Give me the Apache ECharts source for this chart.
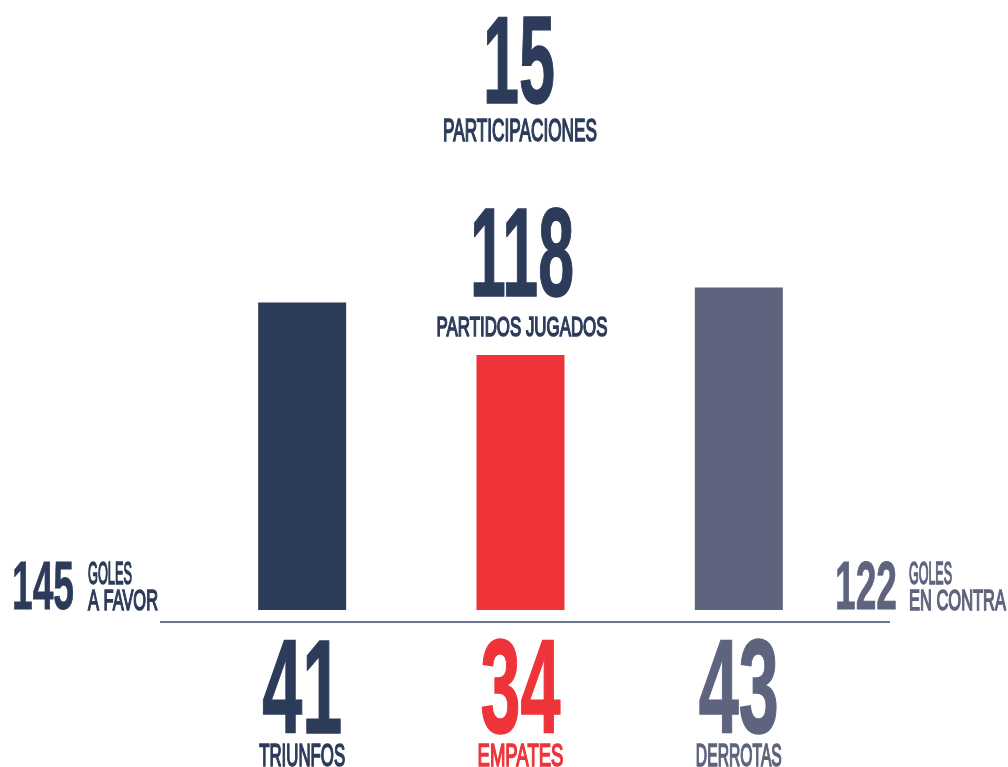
<!DOCTYPE html>
<html>
<head>
<meta charset="utf-8">
<style>
  html, body { margin: 0; padding: 0; background: #ffffff; }
  #chart { width: 1008px; height: 767px; }
</style>
<script src="https://cdn.jsdelivr.net/npm/echarts@6/dist/echarts.min.js"></script>
</head>
<body>
<div id="chart"></div>
<script>
const categories = ["TRIUNFOS", "EMPATES", "DERROTAS"];
const results = [41, 34, 43];
const barColors = ["#2b3b59", "#ee3339", "#5e637e"];
const participations = [15, "PARTICIPACIONES"];
const matchesPlayed = [118, "PARTIDOS JUGADOS"];
const goalsFor = [145, "GOLES", "A FAVOR"];
const goalsAgainst = [122, "GOLES", "EN CONTRA"];

const navy = "#2b3b59";
const slate = "#5e637e";
const FONT = '"Liberation Sans", Arial, sans-serif';

// measure helper, used to squeeze the wide system font into a condensed look
const measureCtx = document.createElement("canvas").getContext("2d");
function fontFor(size, weight) {
  return weight + " " + size + "px " + FONT;
}
function textWidth(text, size, weight) {
  measureCtx.font = fontFor(size, weight);
  return measureCtx.measureText(String(text)).width;
}

// big numbers are bold, small captions are regular with a thin outline
function squeezed(text, x, capTop, capH, targetW, color, align) {
  const big = capH > 40;
  const weight = big ? "bold" : "normal";
  const size = capH / 0.716;
  const w = textWidth(text, size, weight);
  return {
    type: "text",
    x: x,
    y: capTop + capH / 2 + size * 0.045,
    scaleX: targetW / w,
    silent: true,
    style: {
      text: String(text),
      font: fontFor(size, weight),
      fill: color,
      stroke: color,
      lineWidth: big ? size * 0.012 : 1.6,
      textAlign: align || "center",
      textVerticalAlign: "middle"
    }
  };
}

const chart = echarts.init(document.getElementById("chart"), null, { renderer: "canvas" });

chart.setOption({
  animation: false,
  backgroundColor: "#ffffff",
  grid: { left: 193, right: 160, top: 10, bottom: 157 },
  xAxis: {
    type: "category",
    data: categories,
    axisLine: { show: false },
    axisTick: { show: false },
    axisLabel: { show: false }
  },
  yAxis: {
    type: "value",
    min: 0,
    max: 80,
    show: false,
    splitLine: { show: false }
  },
  graphic: [
    {
      type: "line",
      silent: true,
      shape: { x1: 160, y1: 622, x2: 890, y2: 622 },
      style: { stroke: "#6b7591", lineWidth: 2 }
    },
    squeezed(participations[0], 519, 19, 89, 72, navy),
    squeezed(participations[1], 520, 120, 22, 154, navy),
    squeezed(matchesPlayed[0], 522, 211, 90, 104, navy),
    squeezed(matchesPlayed[1], 522, 317, 20, 171, navy),
    squeezed(goalsFor[0], 43, 563, 49, 62, navy),
    squeezed(goalsFor[1], 88, 563, 22, 44, navy, "left"),
    squeezed(goalsFor[2], 88, 590, 21, 70, navy, "left"),
    squeezed(goalsAgainst[0], 866, 563, 49, 62, slate),
    squeezed(goalsAgainst[1], 909, 563, 22, 43, slate, "left"),
    squeezed(goalsAgainst[2], 909, 590, 21, 97, slate, "left")
  ],
  series: [
    {
      type: "bar",
      barWidth: 88,
      data: results.map((v, i) => ({ value: v, itemStyle: { color: barColors[i] } }))
    },
    {
      type: "custom",
      clip: false,
      silent: true,
      data: results.map((v, i) => [i, v]),
      renderItem(params, api) {
        const idx = api.value(0);
        const base = api.coord([idx, 0]);
        const color = barColors[idx];
        const num = squeezed(api.value(1), base[0], base[1] + 32, 96, 80, color);
        const name = squeezed(categories[idx], base[0], base[1] + 135, 22, 86, color);
        return { type: "group", children: [num, name] };
      }
    }
  ]
});
</script>
</body>
</html>
